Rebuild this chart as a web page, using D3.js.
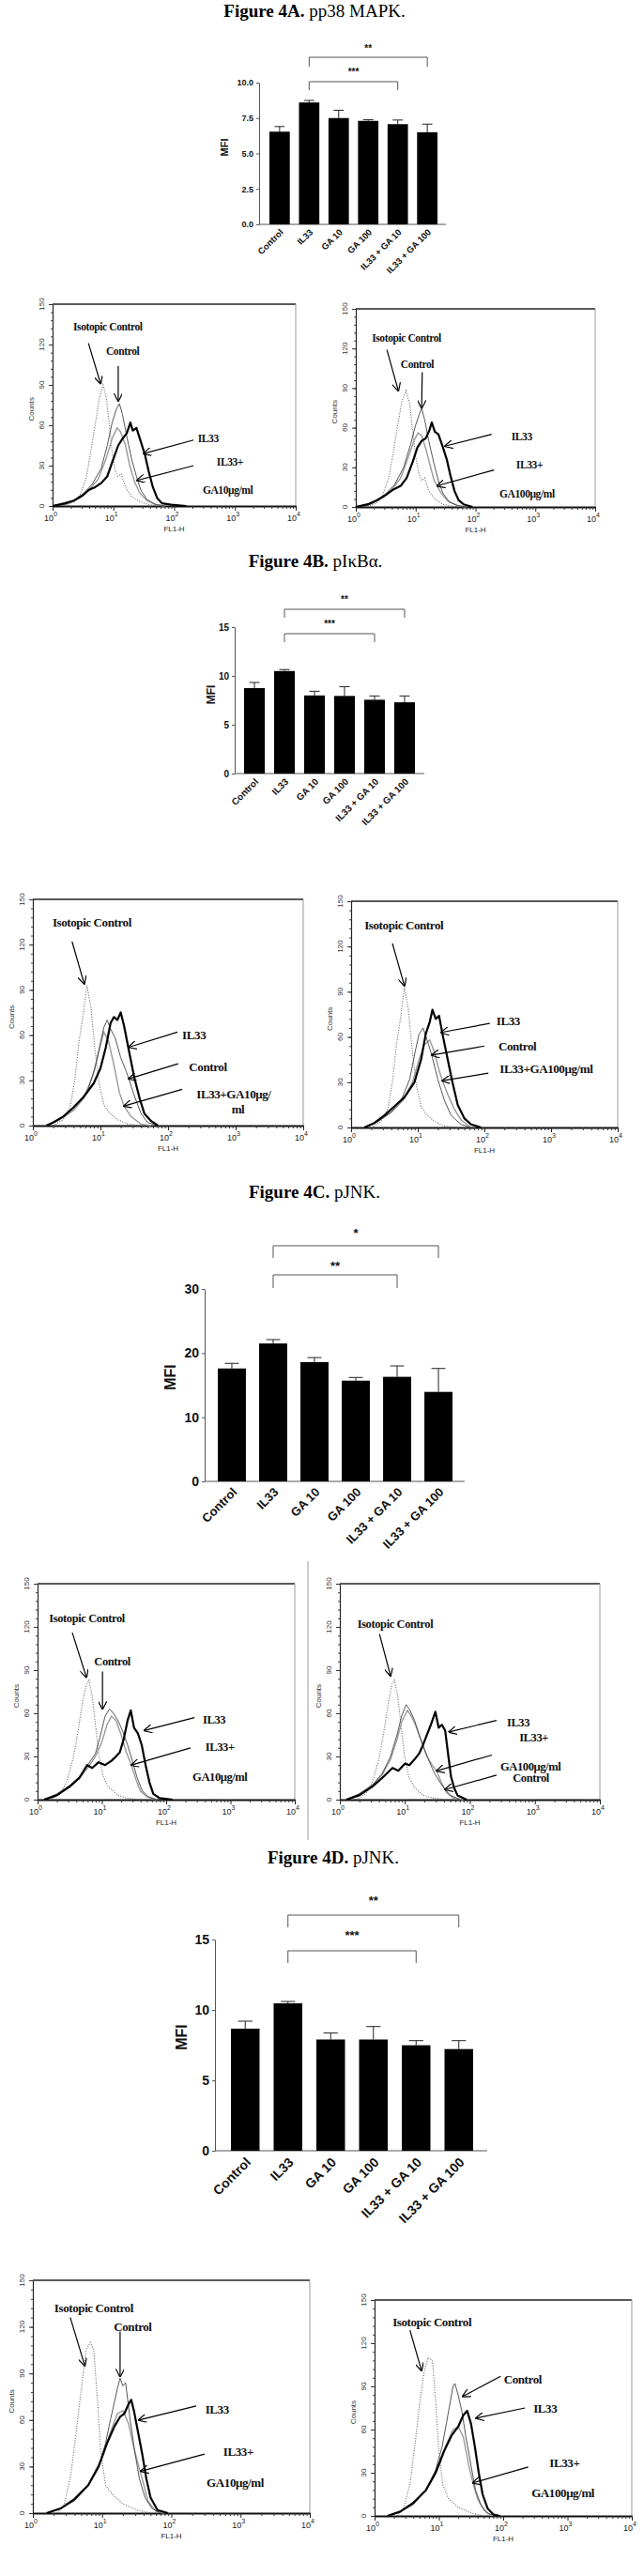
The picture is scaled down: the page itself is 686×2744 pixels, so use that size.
<!DOCTYPE html>
<html>
<head>
<meta charset="utf-8">
<script src="https://cdn.jsdelivr.net/npm/d3@7"></script>
<style>
  body { margin: 0; background: #fff; }
  svg { display: block; }
</style>
</head>
<body>
<svg id="fig" width="686" height="2744"></svg>
<script>
// ---- bar chart data (MFI, mean + SEM) ----
var categories = ["Control", "IL33", "GA 10", "GA 100", "IL33 + GA 10", "IL33 + GA 100"];

var mfiA = [6.54, 8.6, 7.5, 7.3, 7.07, 6.5];
var semA = [0.36, 0.14, 0.55, 0.08, 0.29, 0.57];
var ticksA = [0, 2.5, 5, 7.5, 10];
var sigA = [[1, 5, "**"], [1, 4, "***"]];

var mfiB = [8.75, 10.5, 8.0, 7.95, 7.56, 7.3];
var semB = [0.58, 0.15, 0.43, 0.95, 0.39, 0.65];
var ticksB = [0, 5, 10, 15];
var sigB = [[1, 5, "**"], [1, 4, "***"]];

var mfiC = [17.6, 21.5, 18.6, 15.7, 16.3, 13.95];
var semC = [0.8, 0.6, 0.7, 0.5, 1.7, 3.65];
var ticksC = [0, 10, 20, 30];
var sigC = [[1, 5, "*"], [1, 4, "**"]];

var mfiD = [8.67, 10.47, 7.9, 7.9, 7.49, 7.22];
var semD = [0.53, 0.13, 0.46, 0.92, 0.33, 0.6];
var ticksD = [0, 5, 10, 15];
var sigD = [[1, 5, "**"], [1, 4, "***"]];

var titles = [["Figure 4A.", " pp38 MAPK."], ["Figure 4B.", " pI\u03baB\u03b1."], ["Figure 4C.", " pJNK."], ["Figure 4D.", " pJNK."]];

// ---- flow histograms: [log10(FL1-H), counts] ----
var countTicks = [0, 30, 60, 90, 120, 150];
var decades = [0, 1, 2, 3, 4];

var a1Iso = [[0.2,0],[0.35,3],[0.45,8],[0.55,20],[0.62,38],[0.7,60],[0.77,80],[0.83,90],[0.88,82],[0.93,62],[0.98,40],[1.03,26],[1.08,22],[1.13,24],[1.2,14],[1.3,7],[1.45,3],[1.6,1],[1.8,0]];
var a1Ctrl = [[0,0],[0.2,1],[0.35,4],[0.5,9],[0.65,16],[0.8,28],[0.9,45],[0.98,62],[1.05,72],[1.1,76],[1.15,68],[1.22,52],[1.3,35],[1.38,22],[1.45,12],[1.55,5],[1.7,1],[1.85,0]];
var a1Il33 = [[0,0],[0.2,2],[0.35,4],[0.5,8],[0.6,12],[0.7,14],[0.8,17],[0.9,22],[1.0,35],[1.08,45],[1.15,50],[1.22,54],[1.28,62],[1.32,56],[1.38,58],[1.45,48],[1.52,38],[1.58,26],[1.65,14],[1.72,6],[1.8,2],[1.95,1],[2.2,0]];
var a1Combo = [[0,0],[0.25,2],[0.45,6],[0.6,12],[0.75,20],[0.88,35],[0.98,50],[1.06,58],[1.12,55],[1.2,45],[1.27,30],[1.35,18],[1.43,10],[1.55,4],[1.7,1],[1.85,0]];

var a2Iso = [[0.2,0],[0.35,3],[0.45,9],[0.55,22],[0.63,42],[0.7,62],[0.77,80],[0.84,88],[0.9,78],[0.95,58],[1.0,38],[1.05,26],[1.1,20],[1.15,22],[1.22,12],[1.32,6],[1.45,2],[1.65,0]];
var a2Ctrl = [[0,0],[0.2,1],[0.35,5],[0.5,10],[0.65,17],[0.8,30],[0.92,48],[1.0,62],[1.06,70],[1.1,75],[1.15,66],[1.22,50],[1.3,34],[1.38,20],[1.46,10],[1.56,4],[1.7,1],[1.85,0]];
var a2Il33 = [[0,0],[0.2,2],[0.35,5],[0.5,9],[0.62,13],[0.75,16],[0.85,22],[0.95,34],[1.03,45],[1.1,50],[1.17,52],[1.23,58],[1.27,64],[1.32,57],[1.38,55],[1.45,46],[1.52,36],[1.58,24],[1.65,12],[1.72,5],[1.8,2],[1.95,0]];
var a2Combo = [[0,0],[0.25,2],[0.45,7],[0.6,13],[0.75,22],[0.88,38],[0.97,50],[1.04,56],[1.1,54],[1.17,44],[1.25,30],[1.31,20],[1.36,16],[1.43,10],[1.55,4],[1.7,1],[1.85,0]];

var b1Iso = [[0.3,0],[0.45,4],[0.55,12],[0.62,30],[0.68,55],[0.74,72],[0.8,93],[0.86,78],[0.92,50],[0.98,28],[1.05,14],[1.12,9],[1.25,4],[1.4,1],[1.6,0]];
var b1Ctrl = [[0.2,0],[0.35,3],[0.5,8],[0.65,14],[0.8,22],[0.92,38],[1.0,55],[1.05,65],[1.1,70],[1.15,64],[1.22,58],[1.3,45],[1.38,36],[1.42,31],[1.5,20],[1.6,8],[1.7,2],[1.85,0]];
var b1Il33 = [[0.2,0],[0.3,2],[0.45,6],[0.6,12],[0.75,19],[0.9,28],[1.0,38],[1.08,52],[1.15,68],[1.2,72],[1.25,70],[1.3,75],[1.35,66],[1.42,50],[1.5,32],[1.58,18],[1.65,8],[1.75,3],[1.85,0]];
var b1Combo = [[0.2,0],[0.4,4],[0.6,10],[0.75,18],[0.88,32],[0.97,48],[1.05,62],[1.12,56],[1.2,40],[1.28,22],[1.35,13],[1.45,6],[1.6,1],[1.75,0]];

var b2Iso = [[0.3,0],[0.45,4],[0.55,12],[0.62,30],[0.68,55],[0.74,72],[0.8,93],[0.86,78],[0.92,50],[0.98,28],[1.05,14],[1.12,9],[1.25,4],[1.4,1],[1.6,0]];
var b2Ctrl = [[0.2,0],[0.4,4],[0.6,10],[0.75,18],[0.88,32],[0.96,50],[1.02,62],[1.08,66],[1.14,58],[1.21,48],[1.3,32],[1.4,18],[1.5,8],[1.65,2],[1.8,0]];
var b2Il33 = [[0.2,0],[0.35,3],[0.5,8],[0.65,14],[0.8,20],[0.95,30],[1.05,45],[1.12,62],[1.18,70],[1.22,78],[1.27,72],[1.32,74],[1.38,60],[1.45,45],[1.52,30],[1.6,15],[1.7,6],[1.8,2],[1.95,0]];
var b2Combo = [[0.2,0],[0.4,4],[0.6,10],[0.78,18],[0.92,30],[1.02,45],[1.1,55],[1.18,58],[1.25,50],[1.32,38],[1.37,31],[1.45,22],[1.55,12],[1.65,5],[1.8,0]];

var c1Iso = [[0.2,0],[0.35,4],[0.45,12],[0.55,28],[0.62,45],[0.7,68],[0.76,80],[0.8,83],[0.85,72],[0.9,52],[0.95,32],[1.02,16],[1.1,9],[1.25,3],[1.4,1],[1.6,0]];
var c1Ctrl = [[0.1,0],[0.3,4],[0.5,10],[0.65,16],[0.78,24],[0.9,32],[0.98,45],[1.05,58],[1.12,63],[1.18,60],[1.25,55],[1.32,48],[1.4,38],[1.48,26],[1.55,15],[1.63,6],[1.72,2],[1.85,0]];
var c1Il33 = [[0.1,0],[0.3,3],[0.5,9],[0.65,15],[0.77,24],[0.85,22],[0.95,26],[1.05,24],[1.15,27],[1.22,30],[1.28,33],[1.34,42],[1.4,55],[1.45,62],[1.5,50],[1.56,46],[1.62,38],[1.68,24],[1.74,12],[1.8,4],[1.9,1],[2.1,0]];
var c1Combo = [[0.1,0],[0.3,3],[0.5,9],[0.65,15],[0.78,22],[0.9,30],[1.0,40],[1.08,52],[1.15,58],[1.22,55],[1.3,45],[1.38,33],[1.46,24],[1.53,14],[1.6,6],[1.7,2],[1.85,0]];

var c2Iso = [[0.25,0],[0.4,4],[0.5,12],[0.6,28],[0.67,45],[0.75,68],[0.8,80],[0.84,83],[0.89,72],[0.94,52],[0.99,32],[1.06,16],[1.14,9],[1.28,3],[1.45,1],[1.65,0]];
var c2Ctrl = [[0.1,0],[0.3,4],[0.5,10],[0.65,18],[0.78,30],[0.88,45],[0.95,58],[1.02,66],[1.08,62],[1.15,55],[1.22,45],[1.3,35],[1.38,26],[1.46,18],[1.54,12],[1.62,7],[1.7,3],[1.85,0]];
var c2Il33 = [[0.1,0],[0.3,3],[0.5,9],[0.65,15],[0.81,22],[0.9,20],[1.0,25],[1.07,24],[1.15,28],[1.22,32],[1.28,38],[1.33,44],[1.4,52],[1.47,61],[1.52,50],[1.57,52],[1.62,48],[1.67,30],[1.71,16],[1.76,8],[1.81,3],[1.95,0]];
var c2Combo = [[0.1,0],[0.3,4],[0.5,10],[0.65,17],[0.78,28],[0.88,42],[0.96,55],[1.04,62],[1.1,58],[1.18,50],[1.26,40],[1.34,30],[1.42,24],[1.49,20],[1.56,12],[1.64,5],[1.75,1],[1.9,0]];

var d1Iso = [[0.35,0],[0.45,5],[0.55,25],[0.62,50],[0.7,80],[0.77,105],[0.83,110],[0.88,105],[0.93,75],[0.98,40],[1.05,18],[1.15,12],[1.3,6],[1.5,2],[1.7,0]];
var d1Ctrl = [[0.2,0],[0.4,3],[0.6,8],[0.8,18],[0.95,30],[1.05,45],[1.12,60],[1.18,72],[1.22,80],[1.26,87],[1.3,82],[1.34,84],[1.4,62],[1.47,40],[1.54,22],[1.62,10],[1.72,3],[1.85,0]];
var d1Il33 = [[0.2,0],[0.4,3],[0.6,9],[0.8,18],[0.95,30],[1.08,46],[1.18,56],[1.26,62],[1.32,64],[1.38,70],[1.42,73],[1.46,66],[1.52,52],[1.58,38],[1.64,22],[1.7,10],[1.8,2],[1.95,0]];
var d1Combo = [[0.2,0],[0.4,3],[0.6,8],[0.8,18],[1.0,36],[1.12,52],[1.22,64],[1.3,66],[1.38,58],[1.46,42],[1.53,30],[1.58,22],[1.66,8],[1.78,1],[1.9,0]];

var d2Iso = [[0.35,0],[0.45,5],[0.55,22],[0.63,50],[0.7,78],[0.77,100],[0.83,110],[0.9,108],[0.95,80],[1.0,45],[1.06,22],[1.15,12],[1.3,6],[1.5,2],[1.7,0]];
var d2Ctrl = [[0.2,0],[0.4,3],[0.6,8],[0.8,18],[0.95,32],[1.05,48],[1.12,65],[1.18,80],[1.22,90],[1.25,92],[1.3,84],[1.36,72],[1.42,55],[1.5,35],[1.57,18],[1.65,8],[1.75,2],[1.88,0]];
var d2Il33 = [[0.2,0],[0.4,3],[0.6,9],[0.8,18],[0.95,30],[1.08,45],[1.2,56],[1.3,62],[1.38,70],[1.44,73],[1.5,64],[1.56,48],[1.62,30],[1.68,15],[1.76,5],[1.85,1],[1.95,0]];
var d2Combo = [[0.2,0],[0.4,3],[0.6,8],[0.8,18],[1.0,35],[1.12,50],[1.22,60],[1.3,62],[1.38,55],[1.46,36],[1.53,23],[1.6,12],[1.7,4],[1.82,0]];

// annotation text: [text, log10 x, counts]; arrows: [x0, c0, x1, c1]
var a1Labels = [["Isotopic Control", 0.34, 132], ["Control", 0.88, 114], ["IL33", 2.39, 49], ["IL33+", 2.70, 32], ["GA10\u03bcg/ml", 2.47, 11]];
var a1Arrows = [[0.59, 121, 0.79, 91], [1.08, 104, 1.08, 78], [2.32, 49, 1.50, 39], [2.32, 30, 1.39, 19]];
var a2Labels = [["Isotopic Control", 0.27, 127], ["Control", 0.75, 107], ["IL33", 2.60, 52], ["IL33+", 2.68, 31], ["GA100\u03bcg/ml", 2.40, 9]];
var a2Arrows = [[0.52, 119, 0.71, 88], [1.11, 102, 1.10, 75], [2.27, 55, 1.49, 46], [2.31, 28, 1.36, 16]];
var b1Labels = [["Isotopic Control", 0.29, 134], ["IL33", 2.21, 59], ["Control", 2.31, 38], ["IL33+GA10\u03bcg/", 2.42, 20], ["ml", 2.94, 10]];
var b1Arrows = [[0.58, 122, 0.76, 94], [2.14, 62, 1.42, 52], [2.15, 41, 1.42, 31], [2.21, 24, 1.35, 13]];
var b2Labels = [["Isotopic Control", 0.20, 133], ["IL33", 2.18, 70], ["Control", 2.21, 53], ["IL33+GA100\u03bcg/ml", 2.23, 38]];
var b2Arrows = [[0.62, 122, 0.80, 94], [2.08, 69, 1.35, 63], [2.0, 54, 1.21, 48], [2.06, 36, 1.37, 31]];
var c1Labels = [["Isotopic Control", 0.18, 125], ["Control", 0.88, 95], ["IL33", 2.57, 55], ["IL33+", 2.61, 36], ["GA10\u03bcg/ml", 2.41, 15]];
var c1Arrows = [[0.54, 116, 0.76, 85], [1.01, 89, 1.01, 63], [2.44, 57, 1.66, 48], [2.38, 36, 1.46, 24]];
var c2Labels = [["Isotopic Control", 0.27, 121], ["IL33", 2.57, 53], ["IL33+", 2.76, 42], ["GA100\u03bcg/ml", 2.47, 22], ["Control", 2.66, 14]];
var c2Arrows = [[0.61, 115, 0.78, 86], [2.41, 55, 1.68, 47], [2.34, 31, 1.49, 20], [2.41, 17, 1.62, 7]];
var d1Labels = [["Isotopic Control", 0.31, 131], ["Control", 1.17, 119], ["IL33", 2.49, 66], ["IL33+", 2.75, 39], ["GA10\u03bcg/ml", 2.51, 19]];
var d1Arrows = [[0.54, 126, 0.75, 95], [1.26, 117, 1.26, 88], [2.36, 69, 1.53, 60], [2.48, 38, 1.56, 27]];
var d2Labels = [["Isotopic Control", 0.28, 134], ["Control", 2.01, 94], ["IL33", 2.47, 74], ["IL33+", 2.72, 36], ["GA100\u03bcg/ml", 2.44, 15]];
var d2Arrows = [[0.55, 129, 0.73, 101], [1.96, 97, 1.37, 83], [2.34, 75, 1.58, 68], [2.39, 34, 1.53, 23]];

var SANS = "'Liberation Sans', Arial, sans-serif";
var SERIF = "'Liberation Serif', 'Times New Roman', serif";

var svg = d3.select("#fig");
var defs = svg.append("defs");
defs.append("marker")
    .attr("id", "arr")
    .attr("viewBox", "0 0 10 10")
    .attr("refX", 9).attr("refY", 5)
    .attr("markerWidth", 9).attr("markerHeight", 9)
    .attr("markerUnits", "userSpaceOnUse")
    .attr("orient", "auto")
  .append("path")
    .attr("d", "M0,0L10,5L0,10")
    .attr("fill", "none")
    .attr("stroke", "#000")
    .attr("stroke-width", 1.3);

// ---- titles ----
var titlePos = [[335, 18], [336, 604], [335, 1276], [355, 1985]];
titles.forEach(function (t, i) {
  var tx = svg.append("text")
      .attr("x", titlePos[i][0]).attr("y", titlePos[i][1])
      .attr("text-anchor", "middle")
      .attr("font-family", SERIF).attr("font-size", 19);
  tx.append("tspan").attr("font-weight", "bold").text(t[0]);
  tx.append("tspan").text(t[1]);
});

function barChart(o) {
  var g = svg.append("g");
  var x = d3.scaleBand().domain(categories).range([o.barL, o.barR]).paddingInner(o.pad);
  var y = d3.scaleLinear().domain([0, o.max]).range([o.yBot, o.yTop]);

  var ax = g.append("g")
      .attr("transform", "translate(" + o.axisX + ",0)")
      .call(d3.axisLeft(y).tickValues(o.ticks).tickSize(3).tickSizeOuter(0).tickFormat(o.fmt));
  ax.select(".domain").attr("stroke", "#555");
  ax.selectAll(".tick line").attr("stroke", "#555");
  ax.selectAll(".tick text")
      .attr("font-family", SANS).attr("font-weight", "bold")
      .attr("font-size", o.tickFont).attr("fill", "#111");

  g.append("line")
      .attr("x1", o.axisX).attr("x2", o.axisEnd)
      .attr("y1", o.yBot).attr("y2", o.yBot)
      .attr("stroke", "#555").attr("stroke-width", 1);

  var bw = x.bandwidth();
  // error bars (upper only)
  g.selectAll(".err").data(o.vals).enter().append("path")
      .attr("d", function (v, i) {
        var cx = x(categories[i]) + bw / 2, top = y(v + o.sem[i]);
        return "M" + cx + "," + y(v) + "V" + top + "M" + (cx - bw * 0.25) + "," + top + "H" + (cx + bw * 0.25);
      })
      .attr("stroke", "#222").attr("stroke-width", 1).attr("fill", "none");

  g.selectAll(".bar").data(o.vals).enter().append("rect")
      .attr("x", function (v, i) { return x(categories[i]); })
      .attr("y", function (v) { return y(v); })
      .attr("width", bw)
      .attr("height", function (v) { return o.yBot - y(v); })
      .attr("fill", "#000");

  // category labels
  categories.forEach(function (c) {
    var cx = x(c) + bw / 2 + o.catFont * 0.3;
    var cy = o.yBot + o.catFont * 0.75;
    g.append("text")
        .attr("transform", "translate(" + cx + "," + cy + ") rotate(-45)")
        .attr("text-anchor", "end")
        .attr("dominant-baseline", "middle")
        .attr("font-family", SANS).attr("font-weight", "bold")
        .attr("font-size", o.catFont).attr("fill", "#111")
        .text(c);
  });

  // axis title
  g.append("text")
      .attr("transform", "translate(" + o.mfiX + "," + o.mfiY + ") rotate(-90)")
      .attr("text-anchor", "middle").attr("dominant-baseline", "middle")
      .attr("font-family", SANS).attr("font-weight", "bold")
      .attr("font-size", o.mfiFont).attr("fill", "#111")
      .text("MFI");

  // significance brackets
  o.sig.forEach(function (s, k) {
    var b = o.brackets[k];
    var xa = x(categories[s[0]]) + bw / 2, xb = x(categories[s[1]]) + bw / 2;
    g.append("path")
        .attr("d", "M" + xa + "," + b[2] + "V" + b[1] + "H" + xb + "V" + b[2])
        .attr("fill", "none").attr("stroke", "#555").attr("stroke-width", 1);
    g.append("text")
        .attr("x", (xa + xb) / 2).attr("y", b[0] + o.starFont * 0.5)
        .attr("text-anchor", "middle")
        .attr("font-family", SANS).attr("font-weight", "bold")
        .attr("font-size", o.starFont).attr("fill", "#111")
        .text(s[2]);
  });
}

function histPanel(p) {
  var g = svg.append("g");
  var x = d3.scaleLinear().domain([0, 4]).range([p.x0, p.x1]);
  var xl = d3.scaleLog().domain([1, 10000]).range([p.x0, p.x1]);
  var y = d3.scaleLinear().domain([0, 150]).range([p.yBot, p.yTop]);

  // frame
  g.append("line").attr("x1", p.x0).attr("x2", p.x1).attr("y1", p.yTop).attr("y2", p.yTop)
      .attr("stroke", "#222").attr("stroke-width", 1.6);
  g.append("line").attr("x1", p.x1).attr("x2", p.x1).attr("y1", p.yTop).attr("y2", p.yBot)
      .attr("stroke", "#999").attr("stroke-width", 1);

  // y axis
  var minorY = d3.range(0, 151, 6);
  var ya = g.append("g").attr("transform", "translate(" + p.x0 + ",0)")
      .call(d3.axisLeft(y).tickValues(minorY).tickSize(2).tickSizeOuter(0).tickFormat(""));
  ya.select(".domain").attr("stroke", "#222").attr("stroke-width", 1.2);
  ya.selectAll(".tick line").attr("stroke", "#444");
  var yb = g.append("g").attr("transform", "translate(" + p.x0 + ",0)")
      .call(d3.axisLeft(y).tickValues(countTicks).tickSize(4).tickSizeOuter(0).tickFormat(""));
  yb.select(".domain").remove();
  yb.selectAll(".tick line").attr("stroke", "#333");
  countTicks.forEach(function (t) {
    g.append("text")
        .attr("transform", "translate(" + (p.x0 - 9) + "," + y(t) + ") rotate(-90)")
        .attr("text-anchor", "middle")
        .attr("font-family", SANS).attr("font-size", 8).attr("fill", "#333")
        .text(t);
  });
  g.append("text")
      .attr("transform", "translate(" + (p.x0 - 20) + "," + y(72) + ") rotate(-90)")
      .attr("text-anchor", "middle")
      .attr("font-family", SANS).attr("font-size", 8).attr("fill", "#333")
      .text("Counts");

  // x axis (log)
  var minorX = xl.ticks().filter(function (v) { return decades.indexOf(Math.round(Math.log10(v) * 1000) / 1000) < 0; });
  var xa = g.append("g").attr("transform", "translate(0," + p.yBot + ")")
      .call(d3.axisBottom(xl).tickValues(minorX).tickSize(3).tickSizeOuter(0).tickFormat(""));
  xa.select(".domain").attr("stroke", "#111").attr("stroke-width", 2);
  xa.selectAll(".tick line").attr("stroke", "#333");
  var xb = g.append("g").attr("transform", "translate(0," + p.yBot + ")")
      .call(d3.axisBottom(x).tickValues(decades).tickSize(5).tickSizeOuter(0).tickFormat(""));
  xb.select(".domain").remove();
  xb.selectAll(".tick line").attr("stroke", "#222");
  decades.forEach(function (d) {
    var t = g.append("text")
        .attr("x", x(d) - 2).attr("y", p.yBot + 16)
        .attr("text-anchor", "middle")
        .attr("font-family", SANS).attr("font-size", 9).attr("fill", "#222");
    t.append("tspan").text("10");
    t.append("tspan").attr("dy", -5).attr("font-size", 7).text(d);
  });
  g.append("text")
      .attr("x", (p.x0 + p.x1) / 2).attr("y", p.yBot + 27)
      .attr("text-anchor", "middle")
      .attr("font-family", SANS).attr("font-size", 8).attr("fill", "#222")
      .text("FL1-H");

  var line = d3.line()
      .x(function (d) { return x(d[0]); })
      .y(function (d) { return y(d[1]); });

  g.append("path").attr("d", line(p.iso)).attr("fill", "none")
      .attr("stroke", "#666").attr("stroke-width", 1.1).attr("stroke-dasharray", "1,1.6");
  g.append("path").attr("d", line(p.combo)).attr("fill", "none")
      .attr("stroke", "#9a9a9a").attr("stroke-width", 1.4);
  g.append("path").attr("d", line(p.ctrl)).attr("fill", "none")
      .attr("stroke", "#444").attr("stroke-width", 0.9);
  g.append("path").attr("d", line(p.il33)).attr("fill", "none")
      .attr("stroke", "#000").attr("stroke-width", 2.2).attr("stroke-linejoin", "round");

  p.labels.forEach(function (l) {
    g.append("text")
        .attr("x", x(l[1])).attr("y", y(l[2]))
        .attr("dominant-baseline", "middle")
        .attr("font-family", SERIF).attr("font-weight", "bold")
        .attr("font-size", p.font).attr("letter-spacing", -0.4).attr("fill", "#111")
        .text(l[0]);
  });
  p.arrows.forEach(function (a) {
    g.append("line")
        .attr("x1", x(a[0])).attr("y1", y(a[1]))
        .attr("x2", x(a[2])).attr("y2", y(a[3]))
        .attr("stroke", "#000").attr("stroke-width", 1.2)
        .attr("marker-end", "url(#arr)");
  });
}

// ---- bar charts ----
barChart({ vals: mfiA, sem: semA, ticks: ticksA, sig: sigA, fmt: d3.format(".1f"), max: 10,
  barL: 287, barR: 466, pad: 0.31, axisX: 276, axisEnd: 475, yBot: 239, yTop: 88,
  tickFont: 9, catFont: 9.5, mfiX: 240, mfiY: 157, mfiFont: 11, starFont: 10,
  brackets: [[50, 61, 71], [75, 87, 96]] });
barChart({ vals: mfiB, sem: semB, ticks: ticksB, sig: sigB, fmt: d3.format("d"), max: 15,
  barL: 260, barR: 442, pad: 0.31, axisX: 250, axisEnd: 452, yBot: 824, yTop: 668,
  tickFont: 10, catFont: 10, mfiX: 226, mfiY: 740, mfiFont: 12, starFont: 10,
  brackets: [[637, 649, 658], [663, 675, 684]] });
barChart({ vals: mfiC, sem: semC, ticks: ticksC, sig: sigC, fmt: d3.format("d"), max: 30,
  barL: 232, barR: 482, pad: 0.32, axisX: 218, axisEnd: 495, yBot: 1578, yTop: 1373,
  tickFont: 14, catFont: 13, mfiX: 183, mfiY: 1467, mfiFont: 16, starFont: 13,
  brackets: [[1311, 1327, 1340], [1346, 1358, 1372]] });
barChart({ vals: mfiD, sem: semD, ticks: ticksD, sig: sigD, fmt: d3.format("d"), max: 15,
  barL: 246, barR: 504, pad: 0.33, axisX: 229, axisEnd: 519, yBot: 2291, yTop: 2066,
  tickFont: 14, catFont: 14, mfiX: 195, mfiY: 2170, mfiFont: 16, starFont: 13,
  brackets: [[2022, 2040, 2053], [2059, 2078, 2091]] });

// ---- histograms ----
histPanel({ x0: 56, x1: 315, yTop: 324, yBot: 539, font: 11.5, iso: a1Iso, ctrl: a1Ctrl, il33: a1Il33, combo: a1Combo, labels: a1Labels, arrows: a1Arrows });
histPanel({ x0: 379, x1: 634, yTop: 329, yBot: 540, font: 11.5, iso: a2Iso, ctrl: a2Ctrl, il33: a2Il33, combo: a2Combo, labels: a2Labels, arrows: a2Arrows });
histPanel({ x0: 35, x1: 323, yTop: 958, yBot: 1199, font: 13, iso: b1Iso, ctrl: b1Ctrl, il33: b1Il33, combo: b1Combo, labels: b1Labels, arrows: b1Arrows });
histPanel({ x0: 374, x1: 658, yTop: 960, yBot: 1201, font: 13, iso: b2Iso, ctrl: b2Ctrl, il33: b2Il33, combo: b2Combo, labels: b2Labels, arrows: b2Arrows });
histPanel({ x0: 40, x1: 314, yTop: 1687, yBot: 1917, font: 12.5, iso: c1Iso, ctrl: c1Ctrl, il33: c1Il33, combo: c1Combo, labels: c1Labels, arrows: c1Arrows });
histPanel({ x0: 362, x1: 639, yTop: 1687, yBot: 1917, font: 12.5, iso: c2Iso, ctrl: c2Ctrl, il33: c2Il33, combo: c2Combo, labels: c2Labels, arrows: c2Arrows });
histPanel({ x0: 35, x1: 330, yTop: 2429, yBot: 2677, font: 13, iso: d1Iso, ctrl: d1Ctrl, il33: d1Il33, combo: d1Combo, labels: d1Labels, arrows: d1Arrows });
histPanel({ x0: 399, x1: 673, yTop: 2450, yBot: 2680, font: 13, iso: d2Iso, ctrl: d2Ctrl, il33: d2Il33, combo: d2Combo, labels: d2Labels, arrows: d2Arrows });

// divider between the 4C histograms
svg.append("line").attr("x1", 328).attr("x2", 328).attr("y1", 1663).attr("y2", 1960)
    .attr("stroke", "#999").attr("stroke-width", 1);
</script>
</body>
</html>
